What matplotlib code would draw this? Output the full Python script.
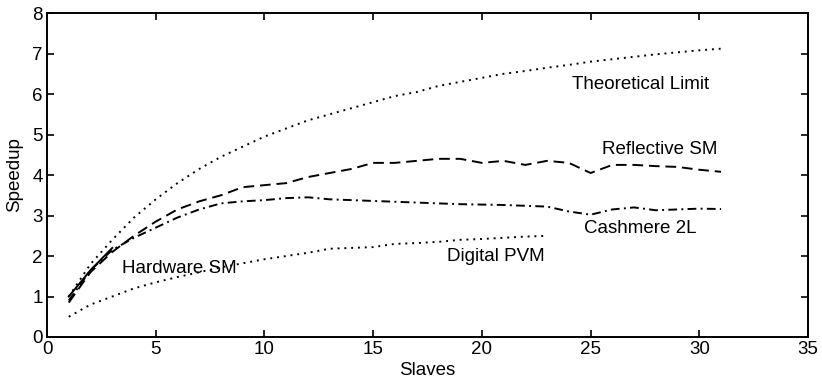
import matplotlib.pyplot as plt

plt.rcParams['font.family'] = ['Liberation Sans', 'DejaVu Sans']

# Slaves (x) and measured speedups
slaves = list(range(1, 32))
theoretical = [1.0, 1.8, 2.4, 2.95, 3.4, 3.8, 4.15, 4.45, 4.7, 4.95, 5.15, 5.35, 5.5, 5.65,
               5.8, 5.95, 6.05, 6.2, 6.3, 6.4, 6.5, 6.57, 6.65, 6.72, 6.8, 6.86, 6.92,
               6.98, 7.03, 7.08, 7.12]
reflective = [0.85, 1.6, 2.1, 2.5, 2.85, 3.15, 3.35, 3.5, 3.7, 3.75, 3.8, 3.95, 4.05, 4.15,
              4.3, 4.3, 4.35, 4.4, 4.4, 4.3, 4.35, 4.25, 4.35, 4.3, 4.05, 4.25, 4.25,
              4.22, 4.2, 4.13, 4.08]
cashmere = [0.9, 1.65, 2.15, 2.45, 2.7, 2.95, 3.15, 3.3, 3.35, 3.38, 3.43, 3.45, 3.4, 3.38,
            3.36, 3.34, 3.32, 3.3, 3.28, 3.27, 3.26, 3.24, 3.22, 3.1, 3.02, 3.15, 3.2,
            3.13, 3.15, 3.17, 3.16]
hw_slaves = [1, 2, 3]
hardware = [1.0, 1.65, 2.2]
pvm_slaves = list(range(1, 24))
pvm = [0.5, 0.8, 1.0, 1.2, 1.35, 1.48, 1.6, 1.72, 1.82, 1.92, 2.0, 2.08, 2.18, 2.2,
       2.22, 2.3, 2.32, 2.35, 2.4, 2.42, 2.45, 2.48, 2.5]

fig = plt.figure(figsize=(8.22, 3.84), dpi=100)
ax = fig.add_axes([0.0572, 0.1224, 0.9258, 0.8436])

lw = 1.4
ax.plot(slaves, theoretical, color="black", lw=lw, dashes=(1, 2.5))
ax.plot(slaves, reflective, color="black", lw=lw, dashes=(5.5, 3))
ax.plot(slaves, cashmere, color="black", lw=lw, dashes=(4.5, 2.2, 1, 2.2))
ax.plot(hw_slaves, hardware, color="black", lw=lw)
ax.plot(pvm_slaves, pvm, color="black", lw=lw, dashes=(1, 2.5))

fs = 13.5
ax.text(27.3, 6.23, "Theoretical Limit", ha="center", va="center", fontsize=fs)
ax.text(28.2, 4.62, "Reflective SM", ha="center", va="center", fontsize=fs)
ax.text(27.3, 2.69, "Cashmere 2L", ha="center", va="center", fontsize=fs)
ax.text(3.45, 1.70, "Hardware SM", ha="left", va="center", fontsize=fs)
ax.text(20.65, 2.0, "Digital PVM", ha="center", va="center", fontsize=fs)

ax.set_xlim(0, 35)
ax.set_ylim(0, 8)
ax.set_xticks(range(0, 36, 5))
ax.set_yticks(range(0, 9))
ax.tick_params(direction="in", top=True, right=True, length=5, width=1.2,
               labelsize=fs, pad=3)
for s in ax.spines.values():
    s.set_linewidth(1.4)
ax.set_xlabel("Slaves", fontsize=fs)
ax.set_ylabel("Speedup", fontsize=fs)
ax.xaxis.set_label_coords(0.5, -0.078)
ax.yaxis.set_label_coords(-0.032, 0.5)

plt.savefig("out.png", dpi=100)
